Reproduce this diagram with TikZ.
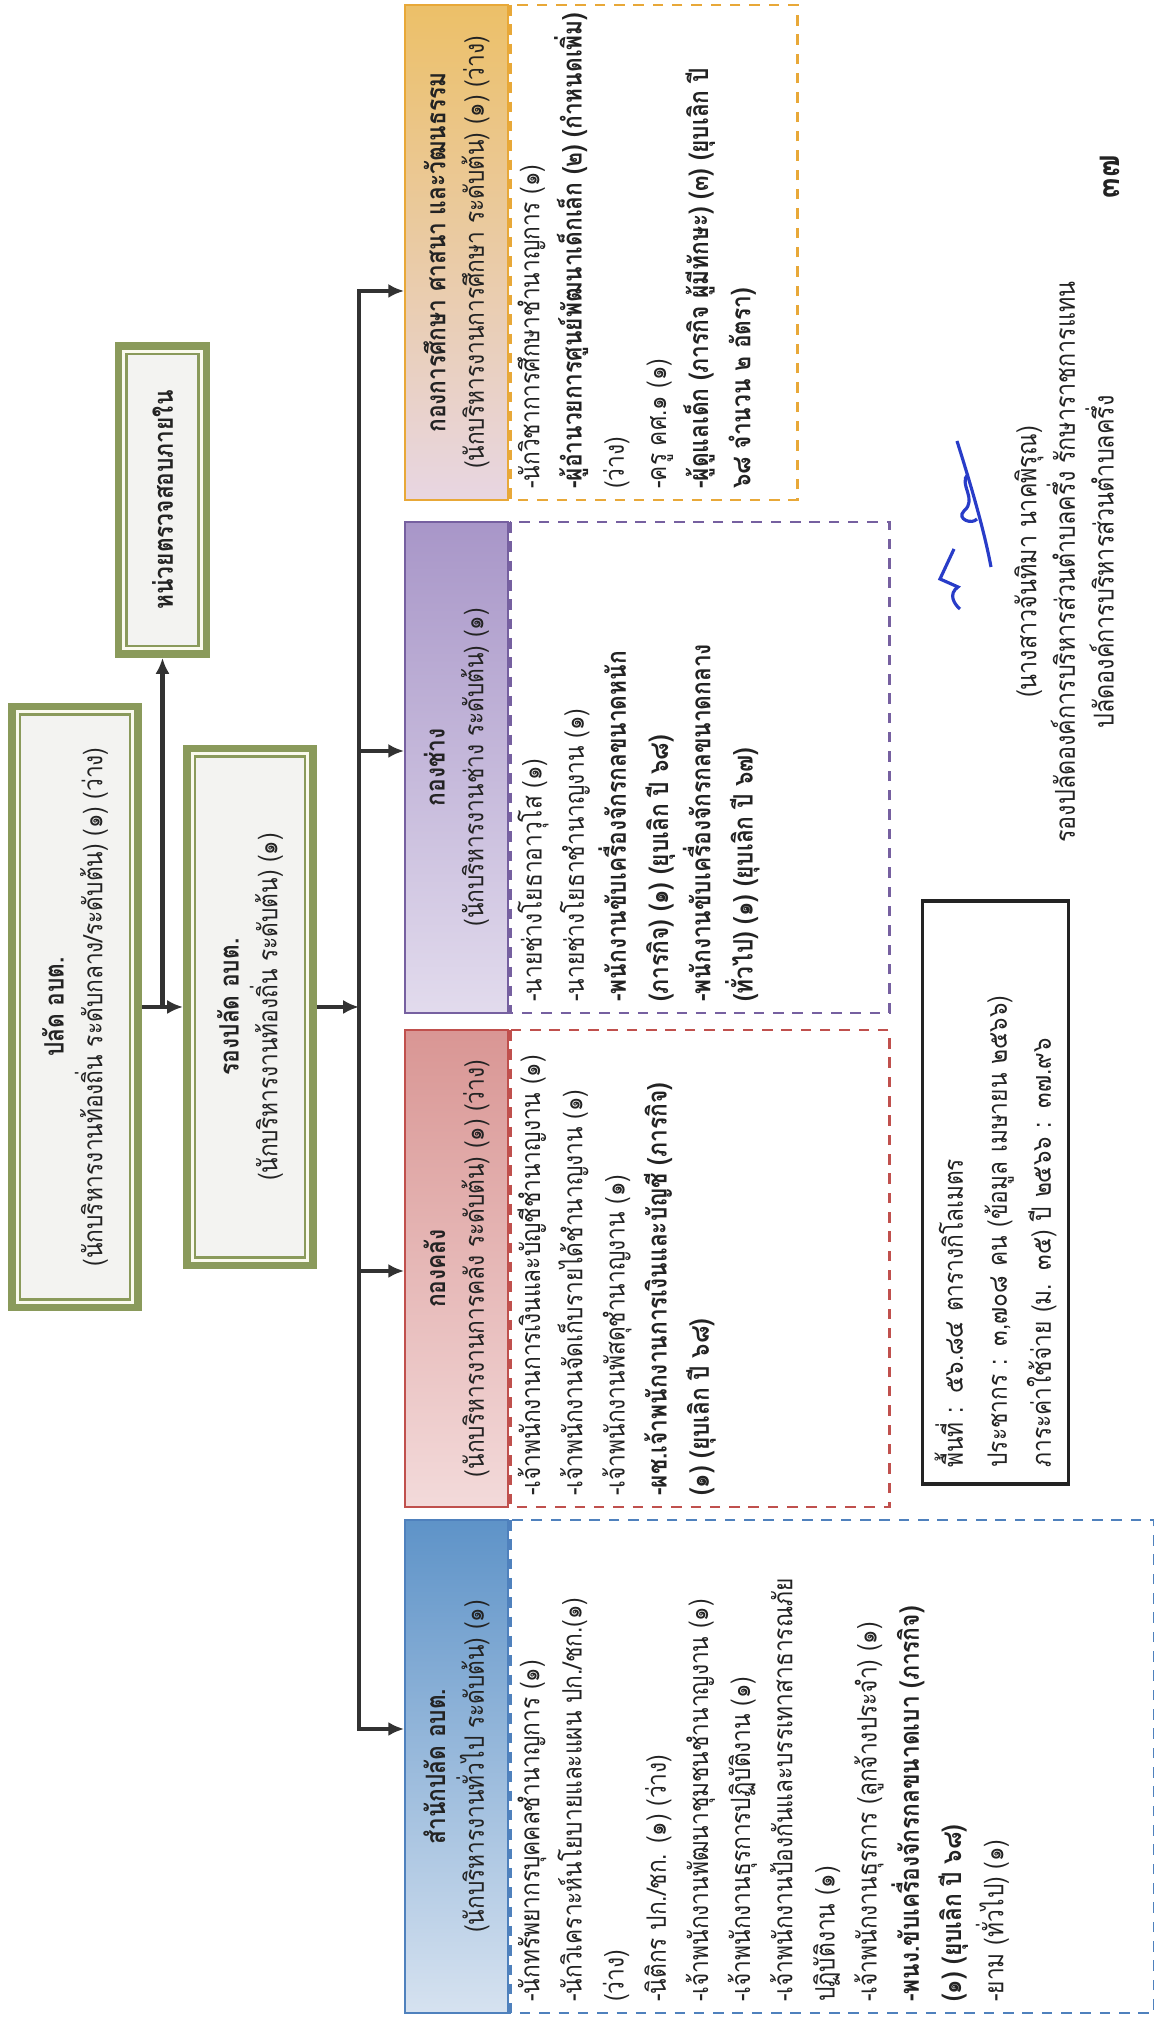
\documentclass[tikz,border=0pt]{standalone}
\usepackage{fontspec}
\setmainfont[Script=Thai, FakeStretch=0.85]{Loma}
\usetikzlibrary{arrows.meta,calc}
\definecolor{oliveG}{RGB}{138,154,91}
\definecolor{boxGray}{RGB}{243,243,241}
\definecolor{creamW}{RGB}{250,250,238}
\definecolor{lineGray}{RGB}{50,50,50}
\definecolor{txtDark}{RGB}{35,35,35}
\definecolor{spBlue}{RGB}{79,129,189}
\definecolor{spBlueD}{RGB}{94,147,200}
\definecolor{spBlueL}{RGB}{214,226,240}
\definecolor{klRed}{RGB}{192,80,77}
\definecolor{klPink}{RGB}{217,150,148}
\definecolor{klPinkL}{RGB}{243,218,218}
\definecolor{chPurple}{RGB}{118,96,160}
\definecolor{chLav}{RGB}{168,150,200}
\definecolor{chLavL}{RGB}{226,219,237}
\definecolor{edGold}{RGB}{232,168,56}
\definecolor{edGoldF}{RGB}{236,192,104}
\definecolor{edPinkL}{RGB}{232,214,226}
\definecolor{inkBlue}{RGB}{40,60,200}
\tikzstyle{connarrow} = [line width=1.2pt, -{Latex[length=4.5pt,width=4pt]}, color=lineGray]
\tikzstyle{busline} = [line width=1.4pt, line cap=rect, color=lineGray]
\tikzstyle{gframe} = [rectangle, draw=oliveG, line width=2.2pt, fill=creamW]
\tikzstyle{ginner} = [rectangle, draw=oliveG, line width=0.6pt, fill=boxGray, align=center, text=txtDark, font=\fontsize{7.6}{11}\selectfont]
\tikzstyle{depthead} = [rectangle, line width=0.5pt, minimum height=10.3mm, align=center, text=txtDark, font=\fontsize{7.6}{11}\selectfont]
\tikzstyle{deptlist} = [rectangle, line width=0.8pt, dash pattern=on 3pt off 2.5pt, anchor=north]
\tikzstyle{listtext} = [anchor=north west, align=left, inner sep=0pt, text=txtDark, font=\fontsize{7.6}{12}\selectfont]
\tikzstyle{infobox} = [rectangle, draw=txtDark, line width=0.9pt, minimum width=58.3mm, minimum height=14.5mm, text width=55mm, inner xsep=1.6mm, align=left, text=txtDark, font=\fontsize{7.6}{12.5}\selectfont]
\tikzstyle{signtext} = [align=center, text=txtDark, font=\fontsize{7.8}{11}\selectfont]

\begin{document}
\begin{tikzpicture}
\begin{scope}[rotate=90, transform shape, x=0.1mm, y=0.1mm]
    % Page
    \fill[white] (0,0) rectangle (2019,1154);
    \useasboundingbox (0,0) rectangle (2019,1154);

    % Palad
    \node[gframe, minimum width=60.12mm, minimum height=12.62mm] (palad) at (1012,1079) {};
    \node[ginner, minimum width=58.5mm, minimum height=11mm] (palad-t) at (palad.center) {\textbf{ปลัด อบต.}\\(นักบริหารงานท้องถิ่น ระดับกลาง/ระดับต้น) (๑) (ว่าง)};

    % Rong palad
    \node[gframe, minimum width=51.72mm, minimum height=12.62mm] (rong) at (1012,904) {};
    \node[ginner, minimum width=50.1mm, minimum height=11mm] (rong-t) at (rong.center) {\textbf{รองปลัด อบต.}\\(นักบริหารงานท้องถิ่น ระดับต้น) (๑)};

    % Audit unit
    \node[gframe, minimum width=30.82mm, minimum height=8.82mm] (nuai) at (1519,991.5) {};
    \node[ginner, minimum width=29.2mm, minimum height=7.2mm] (nuai-t) at (nuai.center) {\textbf{หน่วยตรวจสอบภายใน}};

    % Top arrows
    \coordinate (jn) at ($(palad.south)!0.5!(rong.north)$);
    \draw[connarrow] (palad.south) -- (rong.north);
    \draw[connarrow] (jn) -- (nuai.west);

    % Divisions
    \node[depthead, draw=spBlue, top color=spBlueD, bottom color=spBlueL, minimum width=49.3mm] (hsp) at (252.5,697.5) {\textbf{สำนักปลัด อบต.}\\(นักบริหารงานทั่วไป ระดับต้น) (๑)};
    \node[depthead, draw=klRed, top color=klPink, bottom color=klPinkL, minimum width=47.7mm] (hkl) at (750.5,697.5) {\textbf{กองคลัง}\\(นักบริหารงานการคลัง ระดับต้น) (๑) (ว่าง)};
    \node[depthead, draw=chPurple, top color=chLav, bottom color=chLavL, minimum width=49.1mm] (hch) at (1251.5,697.5) {\textbf{กองช่าง}\\(นักบริหารงานช่าง ระดับต้น) (๑)};
    \node[depthead, draw=edGold, top color=edGoldF, bottom color=edPinkL, minimum width=49.5mm] (hed) at (1766.5,697.5) {\textbf{กองการศึกษา ศาสนา และวัฒนธรรม}\\(นักบริหารงานการศึกษา ระดับต้น) (๑) (ว่าง)};

    % Bus
    \coordinate (bc) at (1012,795);
    \coordinate (b1) at (290,795);
    \coordinate (b2) at (748,795);
    \coordinate (b3) at (1268,795);
    \coordinate (b4) at (1728,795);
    \draw[connarrow] (rong.south) -- (bc);
    \draw[busline] (b1) -- (b4);
    \draw[connarrow] (b1) -- (b1 |- hsp.north);
    \draw[connarrow] (b2) -- (b2 |- hkl.north);
    \draw[connarrow] (b3) -- (b3 |- hch.north);
    \draw[connarrow] (b4) -- (b4 |- hed.north);

    % Position lists
    \node[deptlist, draw=spBlue, minimum width=49.3mm, minimum height=64.4mm] (lsp) at (hsp.south) {};
    \node[deptlist, draw=klRed, minimum width=47.7mm, minimum height=37.9mm] (lkl) at (hkl.south) {};
    \node[deptlist, draw=chPurple, minimum width=49.1mm, minimum height=37.9mm] (lch) at (hch.south) {};
    \node[deptlist, draw=edGold, minimum width=49.5mm, minimum height=28.7mm] (led) at (hed.south) {};

    \node[listtext] (lsp-t) at ([shift={(12,-8)}]lsp.north west) {-นักทรัพยากรบุคคลชำนาญการ (๑)\\-นักวิเคราะห์นโยบายและแผน ปก./ชก.(๑)\\(ว่าง)\\-นิติกร ปก./ชก. (๑) (ว่าง)\\-เจ้าพนักงานพัฒนาชุมชนชำนาญงาน (๑)\\-เจ้าพนักงานธุรการปฏิบัติงาน (๑)\\-เจ้าพนักงานป้องกันและบรรเทาสาธารณภัย\\ปฏิบัติงาน (๑)\\-เจ้าพนักงานธุรการ (ลูกจ้างประจำ) (๑)\\\textbf{-พนง.ขับเครื่องจักรกลขนาดเบา (ภารกิจ)}\\\textbf{(๑) (ยุบเลิก ปี ๖๘)}\\-ยาม (ทั่วไป) (๑)};
    \node[listtext] (lkl-t) at ([shift={(12,-8)}]lkl.north west) {-เจ้าพนักงานการเงินและบัญชีชำนาญงาน (๑)\\-เจ้าพนักงานจัดเก็บรายได้ชำนาญงาน (๑)\\-เจ้าพนักงานพัสดุชำนาญงาน (๑)\\\textbf{-ผช.เจ้าพนักงานการเงินและบัญชี (ภารกิจ)}\\\textbf{(๑) (ยุบเลิก ปี ๖๘)}};
    \node[listtext] (lch-t) at ([shift={(12,-8)}]lch.north west) {-นายช่างโยธาอาวุโส (๑)\\-นายช่างโยธาชำนาญงาน (๑)\\\textbf{-พนักงานขับเครื่องจักรกลขนาดหนัก}\\\textbf{(ภารกิจ) (๑) (ยุบเลิก ปี ๖๘)}\\\textbf{-พนักงานขับเครื่องจักรกลขนาดกลาง}\\\textbf{(ทั่วไป) (๑) (ยุบเลิก ปี ๖๗)}};
    \node[listtext] (led-t) at ([shift={(12,-8)}]led.north west) {-นักวิชาการศึกษาชำนาญการ (๑)\\\textbf{-ผู้อำนวยการศูนย์พัฒนาเด็กเล็ก (๒) (กำหนดเพิ่ม)}\\(ว่าง)\\-ครู คศ.๑ (๑)\\\textbf{-ผู้ดูแลเด็ก (ภารกิจ ผู้มีทักษะ) (๓) (ยุบเลิก ปี}\\\textbf{๖๘ จำนวน ๒ อัตรา)}};

    % Info
    \node[infobox] (info) at (826.5,158.5) {พื้นที่ : ๕๖.๘๔ ตารางกิโลเมตร\\ประชากร : ๓,๗๐๘ คน (ข้อมูล เมษายน ๒๕๖๖)\\ภาระค่าใช้จ่าย (ม. ๓๕) ปี ๒๕๖๖ : ๓๗.๙๖};

    % Signature
    \draw[inkBlue, line width=0.9pt] (1578,197) .. controls (1540,185) and (1490,170) .. (1452,163);
    \draw[inkBlue, line width=0.9pt] (1545,186) .. controls (1535,196) and (1520,176) .. (1508,190) .. controls (1500,198) and (1494,182) .. (1500,177);
    \draw[inkBlue, line width=0.9pt] (1470,200) -- (1440,214) -- (1432,196) .. controls (1425,206) and (1415,200) .. (1410,194);
    \node[signtext] (sign) at (1457,90) {(นางสาวจันทิมา นาคพิรุณ)\\รองปลัดองค์การบริหารส่วนตำบลครึ่ง รักษาราชการแทน\\ปลัดองค์การบริหารส่วนตำบลครึ่ง};

    % Page number
    \node[font=\bfseries\fontsize{10}{12}\selectfont, text=txtDark] (pgno) at (1842,44) {๓๗};
\end{scope}
\end{tikzpicture}
\end{document}
